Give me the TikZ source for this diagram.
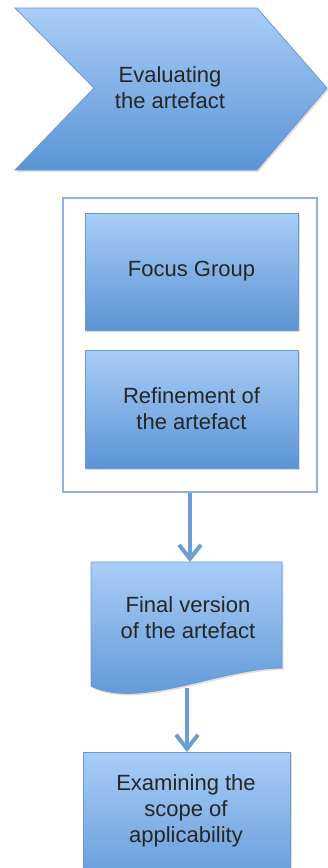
\documentclass[tikz,border=0pt]{standalone}
\usepackage{fontspec}
\setmainfont{Liberation Sans}
\usetikzlibrary{arrows.meta,shadows}
\definecolor{boxtop}{HTML}{A9CDF7}
\definecolor{boxbot}{HTML}{5A94D5}
\definecolor{boxline}{HTML}{6A98CE}
\definecolor{frameline}{HTML}{8DB2DF}
\definecolor{flowline}{HTML}{6E9DD3}
\definecolor{inktext}{HTML}{262626}

\begin{document}
\begin{tikzpicture}[x=1pt,y=-1pt,
  bluefill/.style={top color=boxtop,bottom color=boxbot,draw=boxline,line width=0.8pt,
    drop shadow={shadow xshift=1.5pt,shadow yshift=-2pt,opacity=0.25}},
  label/.style={text=inktext,font=\fontsize{22}{26}\selectfont,align=center},
  stepbox/.style={bluefill,rectangle,inner sep=0pt},
  flow/.style={draw=flowline,line width=4pt,
    -{Straight Barb[length=14pt,width=22pt]}}]

\useasboundingbox (0,0) rectangle (328,868);
\clip (0,0) rectangle (328,868);

% chevron heading the process
\path[bluefill] (15,8) -- (257,8) -- (327,88) -- (257,170) -- (15,170) -- (94,88) -- cycle;
\node[label] (eval) at (170,88) {Evaluating\\the artefact};

% frame around the evaluation steps
\node[draw=frameline,line width=2pt,fill=white,minimum width=254pt,minimum height=294pt,
      inner sep=0pt] (frame) at (190,345) {};
\node[stepbox,minimum width=213pt,minimum height=117pt] (focus) at (191.5,271.5) {};
\node[label] at (focus.center) {Focus Group};
\node[stepbox,minimum width=213pt,minimum height=118pt] (refine) at (191.5,409) {};
\node[label] at (refine.center) {Refinement of\\the artefact};

% document shape with a wavy lower edge
\path[bluefill] (91,562) -- (282,562) -- (282,668)
  .. controls (220,668) and (140,710) .. (91,686) -- cycle;
\coordinate (doctop) at (190,562);
\coordinate (docbottom) at (187,688);
\node[label] (final) at (188,618) {Final version\\of the artefact};

% last step, running past the lower edge
\node[stepbox,anchor=north,minimum width=207pt,minimum height=150pt] (scopebox) at (186.5,752) {};
\node[label] (scope) at (186,811) {Examining the\\scope of\\applicability};

% connectors
\draw[flow] (frame.south -| doctop) -- (doctop);
\draw[flow] (docbottom) -- (docbottom |- scopebox.north);
\end{tikzpicture}
\end{document}
